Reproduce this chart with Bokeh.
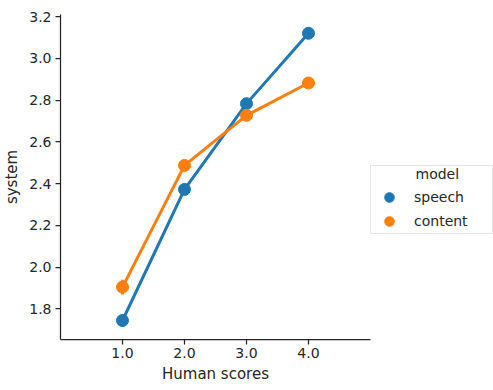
from bokeh.plotting import figure
from bokeh.models import FactorRange, Range1d, FixedTicker, Legend, LegendItem, NumeralTickFormatter
from bokeh.embed import file_html
from bokeh.resources import INLINE

categories = ["1.0", "2.0", "3.0", "4.0"]
speech = [1.744, 2.372, 2.783, 3.120]
content = [1.904, 2.487, 2.727, 2.882]
speech_ci = [0.030, 0.012, 0.012, 0.012]
content_ci = [0.035, 0.012, 0.012, 0.012]
y_ticks = [1.8, 2.0, 2.2, 2.4, 2.6, 2.8, 3.0, 3.2]
series_names = ["speech", "content"]

BLUE = "#1f77b4"
ORANGE = "#ff7f0e"
INK = "#262626"
FONT = "DejaVu Sans"

p = figure(frame_width=310, frame_height=325,
           x_range=FactorRange(*categories, range_padding=0.5, range_padding_units="absolute"),
           y_range=Range1d(1.653, 3.21),
           output_backend="svg", toolbar_location=None,
           min_border_left=53, min_border_right=0, min_border_top=14, min_border_bottom=40)

p.outline_line_color = None
p.xgrid.visible = False
p.ygrid.visible = False
p.background_fill_color = "white"
p.border_fill_color = "white"

renderers = []
for vals, ci, col in [(speech, speech_ci, BLUE), (content, content_ci, ORANGE)]:
    lo = [v - c for v, c in zip(vals, ci)]
    hi = [v + c for v, c in zip(vals, ci)]
    p.segment(x0=categories, y0=lo, x1=categories, y1=hi, line_color=col, line_width=3)
    p.line(x=categories, y=vals, line_color=col, line_width=3)
    r = p.scatter(x=categories, y=vals, size=12, fill_color=col, line_color=col, line_width=1)
    renderers.append(r)

for ax in (p.xaxis[0], p.yaxis[0]):
    ax.axis_line_color = INK
    ax.axis_line_width = 1.25
    ax.major_tick_line_color = INK
    ax.major_tick_line_width = 1.25
    ax.major_tick_out = 5
    ax.major_tick_in = 0
    ax.minor_tick_out = 0
    ax.minor_tick_in = 0
    ax.major_label_text_font = FONT
    ax.major_label_text_font_size = "14px"
    ax.major_label_text_color = INK
    ax.axis_label_text_font = FONT
    ax.axis_label_text_font_size = "15px"
    ax.axis_label_text_font_style = "normal"
    ax.axis_label_text_color = INK

p.xaxis.axis_label = "Human scores"
p.yaxis.axis_label = "system"
p.xaxis.major_label_standoff = 3
p.xaxis.axis_label_standoff = 4
p.yaxis.major_label_standoff = 4
p.yaxis.axis_label_standoff = 5
p.yaxis.ticker = FixedTicker(ticks=y_ticks)
p.yaxis.formatter = NumeralTickFormatter(format="0.0")

legend = Legend(
    items=[LegendItem(label=n, renderers=[r]) for n, r in zip(series_names, renderers)],
    title="\u00a0" * 10 + "model",
    location=(0, 105),
    orientation="vertical",
)
legend.title_text_font = FONT
legend.title_text_font_size = "14px"
legend.title_text_font_style = "normal"
legend.title_text_color = INK
legend.title_standoff = 3
legend.label_text_font = FONT
legend.label_text_font_size = "14px"
legend.label_text_color = INK
legend.padding = 0
legend.spacing = 0
legend.glyph_width = 36
legend.glyph_height = 24
legend.label_height = 24
legend.label_width = 78
legend.label_standoff = 7
legend.margin = 0
legend.border_line_color = "#cccccc"
legend.border_line_width = 1
legend.background_fill_color = "white"
legend.background_fill_alpha = 1.0
p.add_layout(legend, "right")

open("out.html", "w").write(file_html(p, INLINE))
